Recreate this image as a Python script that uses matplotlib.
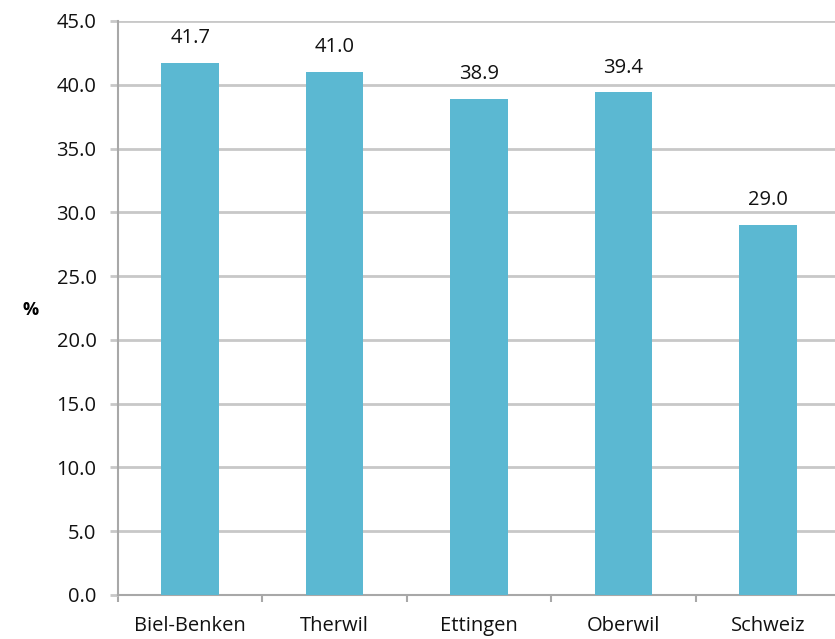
import numpy as np
import matplotlib
matplotlib.use("Agg")
import matplotlib.pyplot as plt

orte = ["Biel-Benken", "Therwil", "Ettingen", "Oberwil", "Schweiz"]
werte = [41.7, 41.0, 38.9, 39.4, 29.0]
y_ticks = [0, 5, 10, 15, 20, 25, 30, 35, 40, 45]

plt.rcParams['font.family'] = ['Open Sans', 'DejaVu Sans']

fig = plt.figure(figsize=(8.35, 6.39), dpi=100)
ax = fig.add_axes([118 / 835, 1 - 595 / 639, 722 / 835, 574 / 639])

x = np.arange(len(orte))
ax.bar(x, werte, width=0.4, color="#5BB8D2", zorder=3)

# Werte ueber den Balken
for xi, w in zip(x, werte):
    ax.text(xi, w + 1.15, f"{w:.1f}", ha="center", va="bottom", fontsize=14.5, color="#111111")

ax.set_xlim(-0.5, len(orte) - 0.5)
ax.set_ylim(0, 45)
ax.set_yticks(y_ticks)
ax.set_yticklabels([f"{t:.1f}" for t in y_ticks], fontsize=14.5)
ax.set_xticks(x)
ax.set_xticklabels(orte, fontsize=14.5)
ax.set_xticks(np.arange(len(orte) + 1) - 0.5, minor=True)

ax.yaxis.grid(True, color="#c8c8c8", linewidth=2, zorder=0)
ax.tick_params(axis="y", length=5.5, width=2, color="#c8c8c8", pad=10, labelcolor="#111111")
ax.tick_params(axis="x", which="major", length=0, pad=15, labelcolor="#111111")
ax.tick_params(axis="x", which="minor", length=5, width=1.5, color="#a8a8a8")

for s in ["top", "right"]:
    ax.spines[s].set_visible(False)
ax.spines["left"].set_color("#a8a8a8")
ax.spines["left"].set_linewidth(1.5)
ax.spines["bottom"].set_color("#a8a8a8")
ax.spines["bottom"].set_linewidth(1.5)

fig.text(31 / 835, 1 - 310 / 639, "%", fontsize=13, fontweight="bold", ha="center", va="center")

fig.savefig("out.png", dpi=100)
